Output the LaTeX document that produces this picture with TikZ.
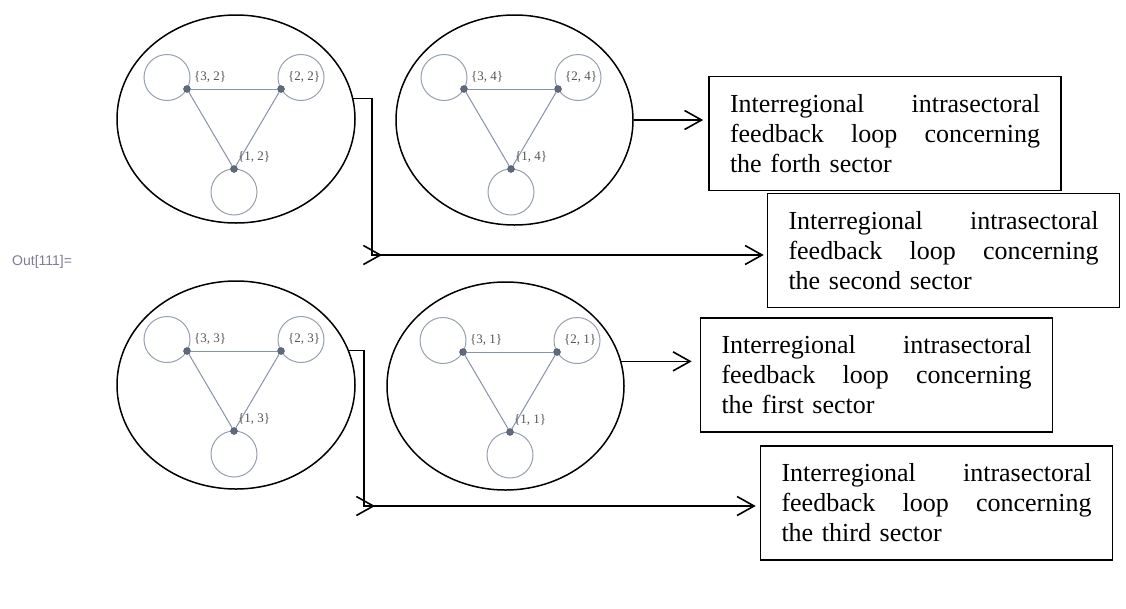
\documentclass[tikz,border=0pt]{standalone}
\usepackage{fontspec}
\setmainfont{Liberation Serif}
\newfontfamily\outfont{Liberation Sans}
\usetikzlibrary{shapes.geometric,arrows.meta,calc}
\definecolor{gedge}{RGB}{135,147,168}
\definecolor{gloop}{RGB}{150,160,176}
\definecolor{gdot}{RGB}{95,106,126}
\definecolor{glab}{RGB}{85,85,85}
\definecolor{outgray}{RGB}{125,125,150}
\tikzset{
  region/.style={ellipse, draw=black, line width=1.5pt, inner sep=0pt},
  vdot/.style={circle, fill=gdot, draw=gdot!80!black, line width=0.4pt, inner sep=0pt, minimum size=7pt},
  gedgeline/.style={draw=gedge, line width=1pt},
  gloopline/.style={draw=gloop, line width=1pt},
  vlab/.style={anchor=south west, font=\fontsize{13pt}{15pt}\selectfont, text=glab, inner sep=0pt},
  infobox/.style={draw=black, line width=1.6pt, text width=310pt, inner xsep=21pt, inner ysep=0pt,
    minimum height=114pt, align=left, font=\fontsize{26pt}{30pt}\selectfont},
  conn/.style={line width=1.6pt, -{Straight Barb[length=17pt,width=19pt]}},
}
\newcommand\trigraph[5]{%
  \draw[gloopline] ($(#2)+(-20,-11.5)$) circle[radius=23pt];
  \draw[gloopline] ($(#2)+(114,-11.5)$) circle[radius=23pt];
  \draw[gloopline] ($(#2)+(47,103)$) circle[radius=23pt];
  \node[vdot] (#1l) at (#2) {};
  \node[vdot] (#1r) at ($(#2)+(94,0)$) {};
  \node[vdot] (#1b) at ($(#2)+(47,80)$) {};
  \draw[gedgeline] (#1l) -- (#1r);
  \draw[gedgeline] (#1l) -- (#1b);
  \draw[gedgeline] (#1r) -- (#1b);
  \node[vlab] (#1ll) at ($(#1l)+(7,-6)$) {#3};
  \node[vlab] (#1rl) at ($(#1r)+(7,-6)$) {#4};
  \node[vlab] (#1bl) at ($(#1b)+(4,-6)$) {#5};
}
\begin{document}
\begin{tikzpicture}[x=1pt,y=-1pt]
\useasboundingbox[fill=white] (0,0) rectangle (1126,608);

% regions
\node[region, minimum width=238pt, minimum height=208pt] (e1) at (236,119) {};
\node[region, minimum width=237pt, minimum height=210pt] (e2) at (514.5,120) {};
\node[region, minimum width=238pt, minimum height=208pt] (e3) at (236,385) {};
\node[region, minimum width=237pt, minimum height=208pt] (e4) at (505.5,386) {};

% inner graphs
\trigraph{ga}{187,89}{\{3, 2\}}{\{2, 2\}}{\{1, 2\}}
\trigraph{gb}{464,89}{\{3, 4\}}{\{2, 4\}}{\{1, 4\}}
\trigraph{gc}{187,351}{\{3, 3\}}{\{2, 3\}}{\{1, 3\}}
\trigraph{gd}{463,352}{\{3, 1\}}{\{2, 1\}}{\{1, 1\}}

% output label
\node[anchor=west, font=\outfont\fontsize{14pt}{16pt}\selectfont, text=outgray, inner sep=0pt] (out) at (12,262) {Out[111]=};

% boxes
\node[infobox] (b1) at (885,133.5) {Interregional\hfill intrasectoral\\ feedback\hfill loop\hfill concerning\\ the forth sector};
\node[infobox] (b2) at (943.5,250.5) {Interregional\hfill intrasectoral\\ feedback\hfill loop\hfill concerning\\ the second sector};
\node[infobox] (b3) at (876.5,375) {Interregional\hfill intrasectoral\\ feedback\hfill loop\hfill concerning\\ the first sector};
\node[infobox] (b4) at (936.5,503) {Interregional\hfill intrasectoral\\ feedback\hfill loop\hfill concerning\\ the third sector};

% connectors
\coordinate (j1) at (372,255);
\coordinate (k1) at (382,255);
\coordinate (j3) at (364,506);
\coordinate (k3) at (375,506);

\draw[conn] (e1.10) -| (j1) -- (k1);
\draw[conn, shorten >=3pt] (j1) -- (j1 -| b2.west);
\draw[conn] (e3.17) -| (j3) -- (k3);
\draw[conn, shorten >=4pt] (j3) -- (j3 -| b4.west);
\draw[conn, shorten >=5pt] (e2.east) -- (e2.east -| b1.west);
\draw[conn, shorten >=8pt] (e4.12) -- (e4.12 -| b3.west);
\end{tikzpicture}
\end{document}
